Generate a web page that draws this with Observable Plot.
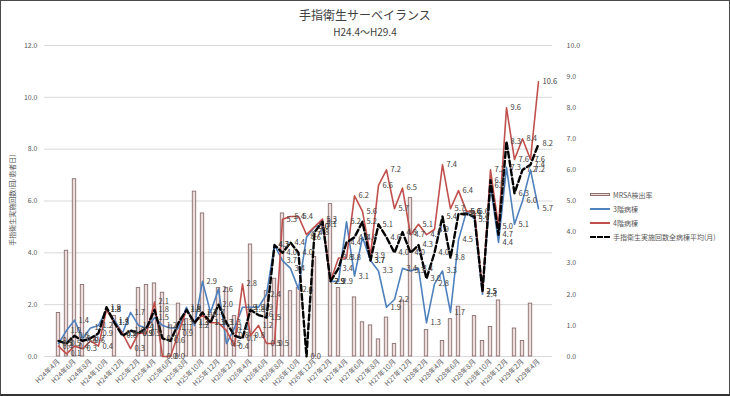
<!DOCTYPE html>
<html><head><meta charset="utf-8">
<script src="https://cdn.jsdelivr.net/npm/d3@7"></script>
<script src="https://cdn.jsdelivr.net/npm/@observablehq/plot@0.6"></script>
<style>
body{margin:0;background:#fff;font-family:"Noto Sans CJK JP","Noto Sans",sans-serif;}
#wrap{position:relative;width:730px;height:396px;overflow:hidden;background:#fff;}
#frame{position:absolute;left:0;top:0;width:730px;height:396px;box-sizing:border-box;border:1px solid #4a4a4a;border-bottom:2px solid #333;pointer-events:none;}
.t{position:absolute;left:0;width:730px;text-align:center;color:#404040;}
#legend{position:absolute;left:590px;top:189px;font-size:7px;color:#595959;}
.li{position:absolute;left:0;height:12px;white-space:nowrap;}
.sw{position:absolute;left:0;width:20px;}
.lt{position:absolute;left:23px;top:0;line-height:12px;}
#ylab{position:absolute;left:12px;top:200px;transform:translate(-50%,-50%) rotate(-90deg);font-size:7px;color:#595959;white-space:nowrap;}
</style></head>
<body>
<div id="wrap">
  <div class="t" style="top:6px;font-size:12px;">手指衛生サーベイランス</div>
  <div class="t" style="top:24px;font-size:10px;">H24.4〜H29.4</div>
  <div id="chart" style="position:absolute;left:0;top:0;"></div>
  <div id="ylab">手指衛生実施回数(回/患者日)</div>
  <div id="legend">
    <div class="li" style="top:0px;"><div class="sw" style="top:4px;height:3px;background:#ecdcdc;border:1px solid #8c6f6f;box-sizing:border-box;"></div><div class="lt">MRSA検出率</div></div>
    <div class="li" style="top:14px;"><div class="sw" style="top:5px;height:2px;background:#4f81bd;"></div><div class="lt">3階病棟</div></div>
    <div class="li" style="top:28px;"><div class="sw" style="top:5px;height:2px;background:#c0504d;"></div><div class="lt">4階病棟</div></div>
    <div class="li" style="top:42px;"><div class="sw" style="top:5px;height:0;border-top:2.5px dashed #000;"></div><div class="lt">手指衛生実施回数全病棟平均(月)</div></div>
  </div>
  <div id="frame"></div>
</div>
<script>
const months = [
 "H24年4月","H24年5月","H24年6月","H24年7月","H24年8月","H24年9月","H24年10月","H24年11月","H24年12月",
 "H25年1月","H25年2月","H25年3月","H25年4月","H25年5月","H25年6月","H25年7月","H25年8月","H25年9月","H25年10月","H25年11月","H25年12月",
 "H26年1月","H26年2月","H26年3月","H26年4月","H26年5月","H26年6月","H26年7月","H26年8月","H26年9月","H26年10月","H26年11月","H26年12月",
 "H27年1月","H27年2月","H27年3月","H27年4月","H27年5月","H27年6月","H27年7月","H27年8月","H27年9月","H27年10月","H27年11月","H27年12月",
 "H28年1月","H28年2月","H28年3月","H28年4月","H28年5月","H28年6月","H28年7月","H28年8月","H28年9月","H28年10月","H28年11月","H28年12月",
 "H29年1月","H29年2月","H29年3月","H29年4月"];
const tickLabels = months.filter((m, i) => i % 2 === 0);

// MRSA検出率 (right axis)
const mrsa = [1.4,3.4,5.7,2.3,0,0,0,1.3,0,0,2.2,2.3,2.35,2.05,1.0,1.7,1.2,5.3,4.6,1.4,2.2,
 2.2,1.3,0,3.6,0,2.1,2.5,4.6,2.1,2.2,0,3.2,0,4.9,2.2,0,1.9,1.1,1.0,0.55,1.25,0.4,1.8,5.1,
 0,0.85,0,0.5,1.2,1.6,0,1.3,0.5,0.95,1.8,0,0.9,0.5,1.7,0];
// 3階病棟
const ward3 = [0.5,1.0,1.4,0.7,1.1,1.2,1.8,1.4,0.9,1.7,1.2,1.1,1.5,1.2,1.1,1.1,1.9,1.2,2.9,1.7,2.6,
 0.5,1.1,1.9,1.9,1.9,2.4,4.3,3.7,3.4,2.6,4.6,5.0,5.1,2.9,2.9,5.2,3.1,4.6,3.7,3.3,1.9,2.2,3.4,3.3,
 3.4,1.3,2.8,3.3,1.7,4.5,5.6,5.3,2.4,6.6,4.4,7.3,5.1,6.0,7.2,5.7];
// 4階病棟
const ward4 = [0.4,0.1,0.4,0.3,0.6,0.4,1.8,1.3,0.9,0.3,0.9,0.9,2.1,0.0,0.0,0.9,1.8,1.3,1.6,1.3,1.3,
 1.0,0.4,2.8,0.8,1.2,0.5,0.5,5.3,5.4,5.4,4.7,5.0,5.3,2.9,3.8,3.8,6.2,5.6,3.9,6.6,7.2,5.7,6.5,4.7,
 5.1,4.7,4.9,7.4,5.7,6.4,5.6,5.6,2.5,7.2,5.0,9.6,7.6,8.4,7.6,10.6];
// 手指衛生実施回数全病棟平均(月)
const avgAll = [0.6,0.5,0.8,0.6,0.7,0.9,1.9,1.3,0.8,1.0,0.9,1.1,1.8,0.7,0.6,1.3,1.8,1.3,1.7,1.3,2.0,
 1.3,0.8,0.7,1.8,1.6,1.5,4.3,4.0,4.4,4.0,0.0,4.8,5.2,2.9,3.4,4.4,4.6,5.2,3.7,5.1,4.6,4.0,4.8,4.0,
 4.3,3.0,4.0,5.4,3.8,5.5,5.5,5.4,2.5,6.8,4.7,8.3,6.3,7.2,7.4,8.2];

const leftTicks = [0,2,4,6,8,10,12];
const rightTicks = [0,1,2,3,4,5,6,7,8,9,10];
const K = 12 / 10; // right axis (0-10) mapped onto left axis (0-12)

const rows = months.map((m, i) => ({m, mrsa: mrsa[i], w3: ward3[i], w4: ward4[i], avg: avgAll[i]}));
const fmt = v => v.toFixed(1);

const chart = Plot.plot({
  width: 730, height: 396,
  marginLeft: 44, marginRight: 178, marginTop: 45, marginBottom: 40,
  style: {fontFamily: '"Noto Sans CJK JP","Noto Sans",sans-serif', fontSize: "7px", color: "#595959", background: "transparent"},
  x: {type: "band", domain: months, padding: 0},
  y: {domain: [0, 12]},
  marks: [
    Plot.gridY(leftTicks, {stroke: "#d9d9d9", strokeOpacity: 1, strokeWidth: 1}),
    Plot.axisY(leftTicks, {anchor: "left", tickSize: 0, tickPadding: 7, tickFormat: fmt, label: null, fontSize: 7}),
    Plot.axisY(rightTicks.map(v => v * K), {anchor: "right", tickSize: 0, tickPadding: 14, tickFormat: d => (d / K).toFixed(1), label: null, fontSize: 7}),
    Plot.axisX(tickLabels, {anchor: "bottom", tickRotate: -45, tickSize: 0, tickPadding: 4, label: null, fontSize: 7}),
    Plot.barY(rows.filter(d => d.mrsa > 0), {x: "m", y: d => d.mrsa * K, fill: "#ecdcdc", stroke: "#8c6f6f", strokeWidth: 0.9, insetLeft: 2.3, insetRight: 2.3}),
    Plot.lineY(rows, {x: "m", y: "w3", stroke: "#4f81bd", strokeWidth: 1.6}),
    Plot.lineY(rows, {x: "m", y: "w4", stroke: "#c0504d", strokeWidth: 1.6}),
    Plot.lineY(rows, {x: "m", y: "avg", stroke: "#000", strokeWidth: 2.4, strokeDasharray: "6,3"}),
    Plot.text(rows, {x: "m", y: "w3", text: d => fmt(d.w3), textAnchor: "start", dx: 4, fontSize: 7.5, fill: "#404040"}),
    Plot.text(rows, {x: "m", y: "w4", text: d => fmt(d.w4), textAnchor: "start", dx: 4, fontSize: 7.5, fill: "#404040"}),
    Plot.text(rows, {x: "m", y: "avg", text: d => fmt(d.avg), textAnchor: "start", dx: 4, fontSize: 7.5, fill: "#404040"})
  ]
});
document.getElementById("chart").appendChild(chart);
</script>
</body></html>
